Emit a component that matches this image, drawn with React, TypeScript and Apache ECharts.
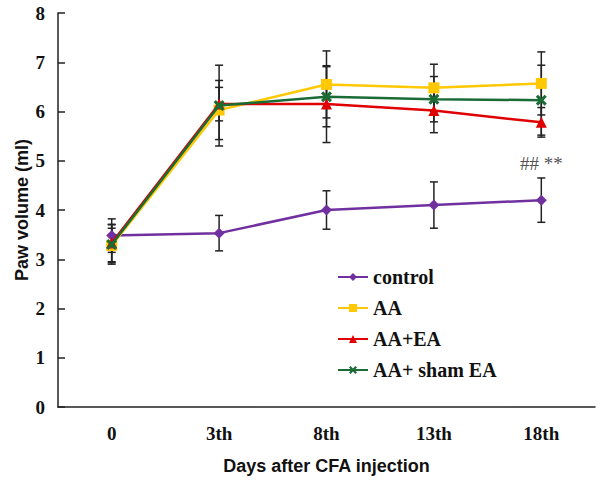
import React, { useEffect, useRef } from "react";
import * as echarts from "echarts";

const categories = ["0", "3th", "8th", "13th", "18th"];
const seriesNames = ["control", "AA", "AA+EA", "AA+ sham EA"];
const controlMean = [3.48, 3.53, 4.0, 4.1, 4.2];
const controlSD = [0.34, 0.36, 0.39, 0.47, 0.45];
const aaMean = [3.28, 6.03, 6.55, 6.48, 6.57];
const aaSD = [0.35, 0.6, 0.68, 0.48, 0.64];
const aaEaMean = [3.33, 6.15, 6.15, 6.02, 5.78];
const aaEaSD = [0.38, 0.34, 0.78, 0.45, 0.3];
const shamMean = [3.3, 6.12, 6.3, 6.25, 6.23];
const shamSD = [0.4, 0.82, 0.61, 0.46, 0.71];
const yTicks = { min: 0, max: 8, interval: 1 };
const annotationText = "## **";
const annotationValue = 4.95;

const colors = ["#7030A0", "#FFC800", "#E00000", "#1B6B36"];
const symbols = [
  "diamond",
  "rect",
  "triangle",
  "path://M2,0 L5,3 L8,0 L10,2 L7,5 L10,8 L8,10 L5,7 L2,10 L0,8 L3,5 L0,2 Z",
];
const symbolSizes = [11, 11, 11, 11];

const means = [controlMean, aaMean, aaEaMean, shamMean];
const sds = [controlSD, aaSD, aaEaSD, shamSD];

const SERIF = "'Liberation Serif', 'Times New Roman', serif";
const SANS = "'Liberation Sans', Arial, sans-serif";

export default function App() {
  const ref = useRef<HTMLDivElement>(null);
  useEffect(() => {
    if (!ref.current) return;
    const chart = echarts.init(ref.current, null, { renderer: "svg" });

    const errData: number[][] = [];
    means.forEach((m, s) => {
      m.forEach((v, i) => {
        errData.push([i, v - sds[s][i], v + sds[s][i]]);
      });
    });

    const lineSeries = seriesNames.map((name, s) => ({
      name,
      type: "line",
      data: means[s],
      z: 3 + s,
      symbol: symbols[s],
      symbolSize: symbolSizes[s],
      showAllSymbol: true,
      itemStyle: { color: colors[s] },
      lineStyle: { color: colors[s], width: 2.5 },
    }));

    chart.setOption({
      animation: false,
      backgroundColor: "#fff",
      grid: { left: 58, right: 7, top: 13, bottom: 77, containLabel: false },
      legend: {
        orient: "vertical",
        left: 332,
        top: 262,
        itemWidth: 30,
        itemHeight: 10,
        itemGap: 11,
        data: seriesNames,
        textStyle: {
          fontFamily: SERIF,
          fontWeight: "bold",
          fontSize: 20,
          lineHeight: 20,
          color: "#111",
        },
      },
      xAxis: {
        type: "category",
        data: categories,
        boundaryGap: true,
        name: "Days after CFA injection",
        nameLocation: "middle",
        nameGap: 50,
        nameTextStyle: {
          fontFamily: SANS,
          fontWeight: "bold",
          fontSize: 18,
          color: "#111",
        },
        axisLine: { lineStyle: { color: "#222", width: 1.5 } },
        axisTick: { alignWithLabel: true, inside: true, length: 5, lineStyle: { color: "#222", width: 1.5 } },
        axisLabel: {
          margin: 17,
          fontFamily: SERIF,
          fontWeight: "bold",
          fontSize: 19,
          color: "#111",
        },
        splitLine: { show: false },
      },
      yAxis: {
        type: "value",
        min: yTicks.min,
        max: yTicks.max,
        interval: yTicks.interval,
        name: "Paw volume (ml)",
        nameLocation: "middle",
        nameGap: 27,
        nameMoveOverlap: false,
        nameTextStyle: {
          fontFamily: SANS,
          fontWeight: "bold",
          fontSize: 18,
          color: "#111",
        },
        axisLine: { show: true, lineStyle: { color: "#222", width: 1.5 } },
        axisTick: { show: true, inside: true, length: 7, lineStyle: { color: "#222", width: 1.5 } },
        axisLabel: {
          margin: 13,
          fontFamily: SERIF,
          fontWeight: "bold",
          fontSize: 19,
          color: "#111",
        },
        splitLine: { show: false },
      },
      series: [
        {
          type: "custom",
          name: "errorbars",
          z: 2,
          silent: true,
          data: errData,
          encode: { x: 0, y: [1, 2] },
          renderItem: (params: any, api: any) => {
            const x = api.value(0);
            const lo = api.coord([x, api.value(1)]);
            const hi = api.coord([x, api.value(2)]);
            const hw = 4;
            const style = { stroke: "#222", lineWidth: 1.5, fill: "none" };
            return {
              type: "group",
              children: [
                { type: "line", shape: { x1: lo[0], y1: lo[1], x2: hi[0], y2: hi[1] }, style },
                { type: "line", shape: { x1: lo[0] - hw, y1: lo[1], x2: lo[0] + hw, y2: lo[1] }, style },
                { type: "line", shape: { x1: hi[0] - hw, y1: hi[1], x2: hi[0] + hw, y2: hi[1] }, style },
              ],
            };
          },
        },
        {
          type: "scatter",
          name: "annotation",
          silent: true,
          z: 10,
          symbol: "circle",
          symbolSize: 1,
          itemStyle: { color: "rgba(0,0,0,0)" },
          data: [[categories.length - 1, annotationValue]],
          label: {
            show: true,
            position: "inside",
            formatter: annotationText,
            fontFamily: SERIF,
            fontSize: 19,
            color: "#222",
          },
        },
        ...lineSeries,
      ],
    });
    return () => chart.dispose();
  }, []);
  return <div ref={ref} style={{ width: 602, height: 484, position: "absolute", left: 0, top: 0 }} />;
}
